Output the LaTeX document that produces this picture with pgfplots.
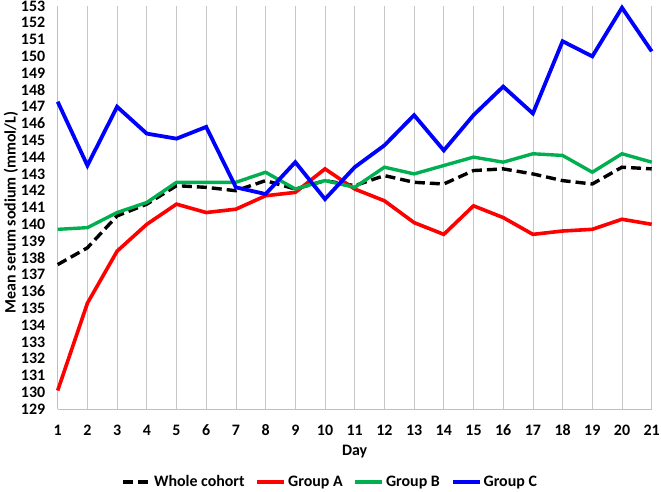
\documentclass[border=0pt]{standalone}
\usepackage{fontspec}
\setmainfont{Carlito}
\usepackage{pgfplots}
\usepackage{pgfplotstable}
\pgfplotsset{compat=1.18}
\definecolor{cgreen}{RGB}{0,176,80}
\pgfplotstableread{
day whole a b c
1 137.6 130.1 139.7 147.3
2 138.6 135.3 139.8 143.5
3 140.5 138.4 140.7 147.0
4 141.2 140.0 141.3 145.4
5 142.3 141.2 142.5 145.1
6 142.2 140.7 142.5 145.8
7 142.0 140.9 142.5 142.2
8 142.6 141.7 143.1 141.8
9 142.1 141.9 142.1 143.7
10 142.6 143.3 142.6 141.5
11 142.3 142.1 142.2 143.4
12 142.9 141.4 143.4 144.7
13 142.5 140.1 143.0 146.5
14 142.4 139.4 143.5 144.4
15 143.2 141.1 144.0 146.5
16 143.3 140.4 143.7 148.2
17 143.0 139.4 144.2 146.6
18 142.6 139.6 144.1 150.9
19 142.4 139.7 143.1 150.0
20 143.4 140.3 144.2 152.9
21 143.3 140.0 143.7 150.3
}\datatable
\newcommand{\cf}{\fontsize{16}{19}\selectfont\bfseries}
\begin{document}
\begin{tikzpicture}
\path[use as bounding box] (-57.7bp,-83bp) rectangle (603.3bp,409bp);
\begin{axis}[
  scale only axis,
  width=594bp, height=403bp,
  xmin=1, xmax=21, ymin=129, ymax=153,
  xtick={1,...,21}, ytick={129,...,153},
  axis x line=bottom, axis y line=left,
  axis line style={draw=gray!50, line width=0.8pt, -},
  major tick length=0pt,
  xmajorgrids,
  grid style={draw=gray!45, line width=0.8pt},
  font=\cf,
  ticklabel style={font=\cf},
  /pgf/number format/assume math mode=true,
  yticklabel style={anchor=east, xshift=-9bp},
  xticklabel style={anchor=center, yshift=-21bp},
  xlabel={Day},
  ylabel={Mean serum sodium (mmol/L)},
  xlabel style={at={([yshift=-43bp]axis description cs:0.5,0)}, anchor=center},
  ylabel style={at={([xshift=-46.7bp,yshift=-5bp]axis description cs:0,0.5)}, anchor=center},
  clip=false,
  legend columns=4,
  legend style={draw=none, at={([yshift=-73bp]axis description cs:0.459,0)}, anchor=center,
    font=\cf,
    /tikz/every even column/.append style={column sep=9bp},
    inner sep=0pt},
  legend image code/.code={\draw[#1] (0cm,0cm) -- (0.95cm,0cm);},
]
\addplot[black, line width=3.4bp, dash pattern=on 10bp off 5bp] table[x=day, y=whole] {\datatable};
\addlegendentry{Whole cohort}
\addplot[red, line width=3.6bp] table[x=day, y=a] {\datatable};
\addlegendentry{Group A}
\addplot[cgreen, line width=3.4bp] table[x=day, y=b] {\datatable};
\addlegendentry{Group B}
\addplot[blue, line width=3.8bp] table[x=day, y=c] {\datatable};
\addlegendentry{Group C}
\end{axis}
\end{tikzpicture}
\end{document}
